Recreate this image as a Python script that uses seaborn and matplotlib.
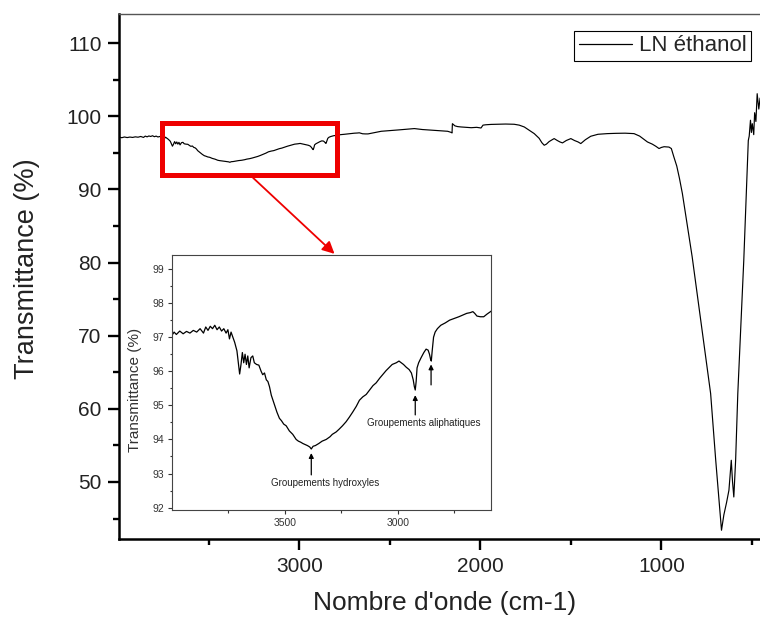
import matplotlib
matplotlib.use("Agg")
import matplotlib.pyplot as plt
import matplotlib.patches as patches
import pandas as pd
import seaborn as sns

# FTIR spectrum (cm-1, %)
wavenumber = [
    4000, 3990, 3980, 3965, 3950, 3935, 3920, 3905, 3890, 3875, 3860, 3850,
    3840, 3830, 3820, 3810, 3800, 3790, 3780, 3770, 3760, 3752, 3745, 3738,
    3730, 3722, 3712, 3705, 3700, 3694, 3688, 3682, 3676, 3670, 3664, 3658,
    3650, 3642, 3635, 3625, 3615, 3605, 3598, 3590, 3582, 3575, 3568, 3560,
    3553, 3545, 3535, 3524, 3515, 3505, 3494, 3480, 3465, 3450, 3440, 3430,
    3420, 3410, 3400, 3390, 3383, 3375, 3365, 3350, 3335, 3317, 3300, 3290,
    3273, 3260, 3245, 3229, 3215, 3200, 3184, 3170, 3155, 3140, 3125, 3110,
    3096, 3080, 3065, 3052, 3040, 3025, 3007, 2995, 2985, 2975, 2963, 2950,
    2940, 2932, 2927, 2923, 2919, 2915, 2908, 2897, 2885, 2875, 2866, 2860,
    2855, 2852, 2848, 2842, 2835, 2825, 2810, 2790, 2771, 2750, 2730, 2712,
    2695, 2680, 2668, 2660, 2650, 2635, 2620, 2605, 2590,
    2570, 2547, 2500, 2450, 2400, 2364, 2320, 2280, 2230, 2180, 2160, 2156,
    2154, 2140, 2125, 2106, 2080, 2050, 2020, 1996, 1985, 1970, 1940, 1904,
    1860, 1813, 1785, 1757, 1730, 1702, 1675, 1660, 1647, 1635, 1620, 1600,
    1592, 1575, 1560, 1546, 1525, 1500, 1480, 1460, 1445, 1420, 1390, 1350,
    1298, 1250, 1200, 1151, 1120, 1077, 1050, 1030, 1013, 1000, 985, 958,
    945, 931, 915, 900, 884, 860, 830, 802, 770, 728, 700, 680, 668, 655,
    640, 627, 614, 607, 600, 590, 578, 560, 545, 530, 520, 515, 508, 503,
    498, 490, 485, 478, 471, 462, 455, 445, 430,
]
transmittance = [
    97.05, 97.15, 97.08, 97.18, 97.10, 97.17, 97.12, 97.20, 97.15, 97.25, 97.12, 97.30,
    97.20, 97.32, 97.25, 97.35, 97.22, 97.30, 97.18, 97.25, 97.12, 97.22, 96.95, 97.15,
    97.00, 96.85, 96.60, 96.20, 95.92, 96.20, 96.55, 96.25, 96.50, 96.20, 96.45, 96.10,
    96.40, 96.45, 96.25, 96.20, 96.18, 96.00, 95.90, 95.95, 95.75, 95.70, 95.55, 95.30,
    95.15, 95.00, 94.80, 94.62, 94.55, 94.45, 94.40, 94.25, 94.15, 94.00, 93.95, 93.92,
    93.88, 93.85, 93.82, 93.78, 93.72, 93.80, 93.82, 93.88, 93.95, 94.00, 94.08, 94.15,
    94.22, 94.30, 94.40, 94.52, 94.65, 94.80, 94.97, 95.15, 95.25, 95.32, 95.45, 95.58,
    95.66, 95.80, 95.92, 96.02, 96.10, 96.20, 96.25, 96.30, 96.25, 96.20, 96.12, 96.05,
    95.95, 95.75, 95.55, 95.45, 95.70, 96.10, 96.25, 96.40, 96.55, 96.65, 96.62, 96.50,
    96.35, 96.30, 96.60, 97.00, 97.15, 97.25, 97.35, 97.42, 97.50, 97.55, 97.60, 97.65,
    97.70, 97.72, 97.75, 97.70, 97.62, 97.60, 97.60, 97.68, 97.75,
    97.85, 97.96, 98.05, 98.15, 98.25, 98.33, 98.20, 98.15, 98.05, 97.96, 97.80, 97.73,
    99.00, 98.70, 98.60, 98.55, 98.50, 98.45, 98.50, 98.41, 98.80, 98.85, 98.90, 98.92,
    98.95, 98.92, 98.80, 98.55, 98.10, 97.64, 97.00, 96.40, 96.05, 96.20, 96.55, 96.85,
    96.96, 96.70, 96.50, 96.37, 96.70, 96.96, 96.70, 96.50, 96.28, 96.80, 97.28, 97.55,
    97.64, 97.68, 97.70, 97.64, 97.30, 96.50, 96.20, 95.90, 95.60, 95.75, 95.85, 95.80,
    95.60, 94.45, 93.20, 91.50, 89.44, 85.60, 80.80, 75.77, 69.80, 62.09, 53.00, 47.00, 43.40, 45.50,
    47.20, 48.87, 52.97, 50.00, 47.95, 52.97, 62.09, 72.00, 80.30, 90.00, 96.70, 97.30, 99.47, 97.80,
    99.00, 97.50, 100.50, 99.30, 103.10, 101.00, 102.50, 101.80, 103.00,
]
series_label = "LN éthanol"

main_xticks = [3000, 2000, 1000]
main_xminor = [3500, 2500, 1500, 500]
main_yticks = [50, 60, 70, 80, 90, 100, 110]
main_yminor = [45, 55, 65, 75, 85, 95, 105]
inset_xticks = [3500, 3000]
inset_xminor = [3750, 3250, 2750]
inset_yticks = [92, 93, 94, 95, 96, 97, 98, 99]
inset_yminor = [92.5, 93.5, 94.5, 95.5, 96.5, 97.5, 98.5]

# zoom box on the main spectrum (x0, x1, y0, y1)
zoom_box = (3756, 2791, 91.97, 99.03)
zoom_arrow_start = (3255, 91.6)
zoom_arrow_end = (2805, 81.2)

# inset annotations: text, text position, arrow base, arrow tip
hydroxyl_label = "Groupements hydroxyles"
hydroxyl_text = (3322, 92.72)
hydroxyl_arrows = [((3383, 92.96), (3383, 93.6))]
aliph_label = "Groupements aliphatiques"
aliph_text = (2886, 94.48)
aliph_arrows = [((2923, 94.72), (2923, 95.3)), ((2853, 95.6), (2853, 96.2))]

df = pd.DataFrame({"wn": wavenumber, "T": transmittance})

sns.set_theme(style="ticks")
plt.rcParams["font.family"] = ["Liberation Sans", "DejaVu Sans"]

fig = plt.figure(figsize=(7.6, 6.19), dpi=100)
ax = fig.add_axes([0.1566, 0.1292, 0.8566, 0.8482])

sns.lineplot(data=df, x="wn", y="T", ax=ax, color="black", lw=0.85,
             label=series_label, errorbar=None)
ax.set_xlim(3995, 400)
ax.set_ylim(42.2, 114)
ax.set_xticks(main_xticks)
ax.set_xticks(main_xminor, minor=True)
ax.set_yticks(main_yticks)
ax.set_yticks(main_yminor, minor=True)
ax.tick_params(which="major", direction="out", length=7.7, width=1.7,
               labelsize=15, pad=5, color="black", labelcolor="#222222")
ax.tick_params(which="minor", direction="out", length=4, width=1.7, color="black")
for side in ["left", "bottom"]:
    ax.spines[side].set_linewidth(1.8)
    ax.spines[side].set_color("black")
ax.spines["top"].set_linewidth(1.0)
ax.spines["top"].set_color("#555555")
ax.spines["right"].set_visible(False)
ax.set_xlabel("Nombre d'onde (cm-1)", fontsize=19, color="#222222", labelpad=11)
ax.set_ylabel("Transmittance (%)", fontsize=19.5, color="#222222")
ax.yaxis.set_label_coords(-0.122, 0.515)

leg = ax.legend(loc="upper right", bbox_to_anchor=(0.9878, 0.9499),
                bbox_transform=fig.transFigure, frameon=True, fancybox=False,
                edgecolor="black", framealpha=1, fontsize=16,
                handlelength=2.4, borderpad=0.2, handletextpad=0.3,
                borderaxespad=0)
leg.get_frame().set_linewidth(0.8)
for h in leg.get_lines():
    h.set_linewidth(0.9)

# red zoom box and arrow
x0, x1, y0, y1 = zoom_box
ax.add_patch(patches.Rectangle((x1, y0), x0 - x1, y1 - y0, fill=False,
                               edgecolor="#ee0000", lw=3.6, zorder=5))
ax.annotate("", xy=zoom_arrow_end, xytext=zoom_arrow_start,
            arrowprops=dict(arrowstyle="-|>", color="#ee0000", lw=1.3,
                            mutation_scale=18, shrinkA=0, shrinkB=0), zorder=5)

# inset
ax_in = fig.add_axes([0.2267, 0.1761, 0.4193, 0.4124])
ax_in.set_facecolor("white")
sns.lineplot(data=df, x="wn", y="T", ax=ax_in, color="black", lw=0.9,
             legend=False, errorbar=None)
ax_in.set_xlim(3998, 2588)
ax_in.set_ylim(91.93, 99.42)
ax_in.set_xticks(inset_xticks)
ax_in.set_xticks(inset_xminor, minor=True)
ax_in.set_yticks(inset_yticks)
ax_in.set_yticks(inset_yminor, minor=True)
ax_in.tick_params(which="major", direction="out", length=3, width=0.8,
                  labelsize=7.5, pad=3, color="#333333", labelcolor="#333333")
ax_in.tick_params(which="minor", direction="out", length=1.8, width=0.8,
                  color="#333333")
for side in ax_in.spines.values():
    side.set_linewidth(0.8)
    side.set_color("#444444")
ax_in.set_xlabel("")
ax_in.set_ylabel("Transmittance (%)", fontsize=11, color="#333333")
ax_in.yaxis.set_label_coords(-0.095, 0.47)

ax_in.text(*hydroxyl_text, hydroxyl_label, fontsize=7, ha="center",
           va="center", color="#222222")
ax_in.text(*aliph_text, aliph_label, fontsize=7, ha="center",
           va="center", color="#222222")
for base, tip in hydroxyl_arrows + aliph_arrows:
    ax_in.annotate("", xy=tip, xytext=base,
                   arrowprops=dict(arrowstyle="-|>", color="black", lw=0.9,
                                   mutation_scale=7, shrinkA=0, shrinkB=0))

fig.savefig("out.png", dpi=100)
